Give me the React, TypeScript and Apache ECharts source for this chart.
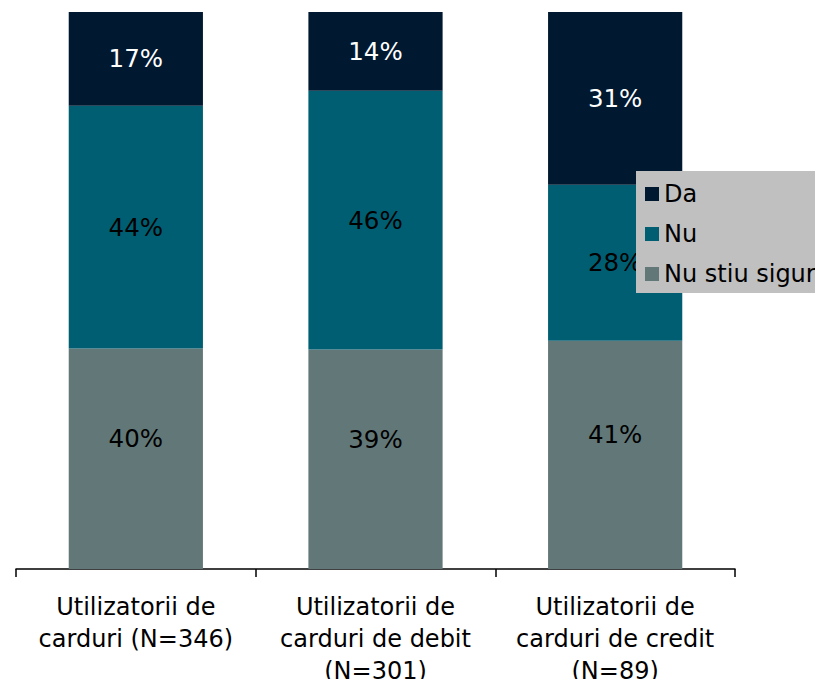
import React, { useEffect, useRef } from "react";
import * as echarts from "echarts";

const categories = [
  "Utilizatorii de\ncarduri (N=346)",
  "Utilizatorii de\ncarduri de debit\n(N=301)",
  "Utilizatorii de\ncarduri de credit\n(N=89)",
];
const seriesNames = ["Nu stiu sigur", "Nu", "Da"];
const nuStiuValues = [40, 39, 41];
const nuValues = [44, 46, 28];
const daValues = [17, 14, 31];
const colors = { da: "#001830", nu: "#005e73", nuStiu: "#627878" };

const FONT = "'DejaVu Sans', Verdana, sans-serif";

export default function App() {
  const ref = useRef<HTMLDivElement>(null);
  useEffect(() => {
    if (!ref.current) return;
    const chart = echarts.init(ref.current, undefined, { renderer: "svg" });
    const totals = categories.map((_, i) => nuStiuValues[i] + nuValues[i] + daValues[i]);
    const mk = (vals: number[]) =>
      vals.map((v, i) => ({ value: (v / totals[i]) * 100, raw: v }));
    const labelFmt = (p: any) => `${p.data.raw}%`;
    const baseLabel = {
      show: true,
      position: "inside",
      fontFamily: FONT,
      fontSize: 24.5,
      formatter: labelFmt,
    };
    chart.setOption({
      animation: false,
      grid: { left: 16, right: 88, top: 12, bottom: 115 },
      legend: {
        data: ["Da", "Nu", "Nu stiu sigur"],
        orient: "vertical",
        left: 636,
        top: 171,
        backgroundColor: "#c0c0c0",
        padding: [10, 20, 6, 9],
        itemWidth: 14,
        itemHeight: 14,
        itemGap: 14,
        icon: "rect",
        textStyle: { fontFamily: FONT, fontSize: 24, color: "#000", lineHeight: 26 },
      },
      xAxis: {
        type: "category",
        data: categories,
        axisLine: { lineStyle: { color: "#000", width: 1.5 } },
        axisTick: { show: true, length: 8, lineStyle: { color: "#000", width: 1.5 } },
        axisLabel: {
          fontFamily: FONT,
          fontSize: 24,
          color: "#000",
          lineHeight: 32,
          margin: 22,
          interval: 0,
        },
      },
      yAxis: { type: "value", min: 0, max: 100, show: false, splitLine: { show: false } },
      series: [
        {
          name: seriesNames[0],
          type: "bar",
          stack: "s",
          barWidth: "56%",
          data: mk(nuStiuValues),
          itemStyle: { color: colors.nuStiu },
          label: { ...baseLabel, color: "#000", offset: [0, -20] },
        },
        {
          name: seriesNames[1],
          type: "bar",
          stack: "s",
          data: mk(nuValues),
          itemStyle: { color: colors.nu },
          label: { ...baseLabel, color: "#000" },
        },
        {
          name: seriesNames[2],
          type: "bar",
          stack: "s",
          data: mk(daValues),
          itemStyle: { color: colors.da },
          label: { ...baseLabel, color: "#fff" },
        },
      ],
    });
    return () => chart.dispose();
  }, []);
  return <div ref={ref} style={{ width: 823, height: 687, margin: -8 }} />;
}
